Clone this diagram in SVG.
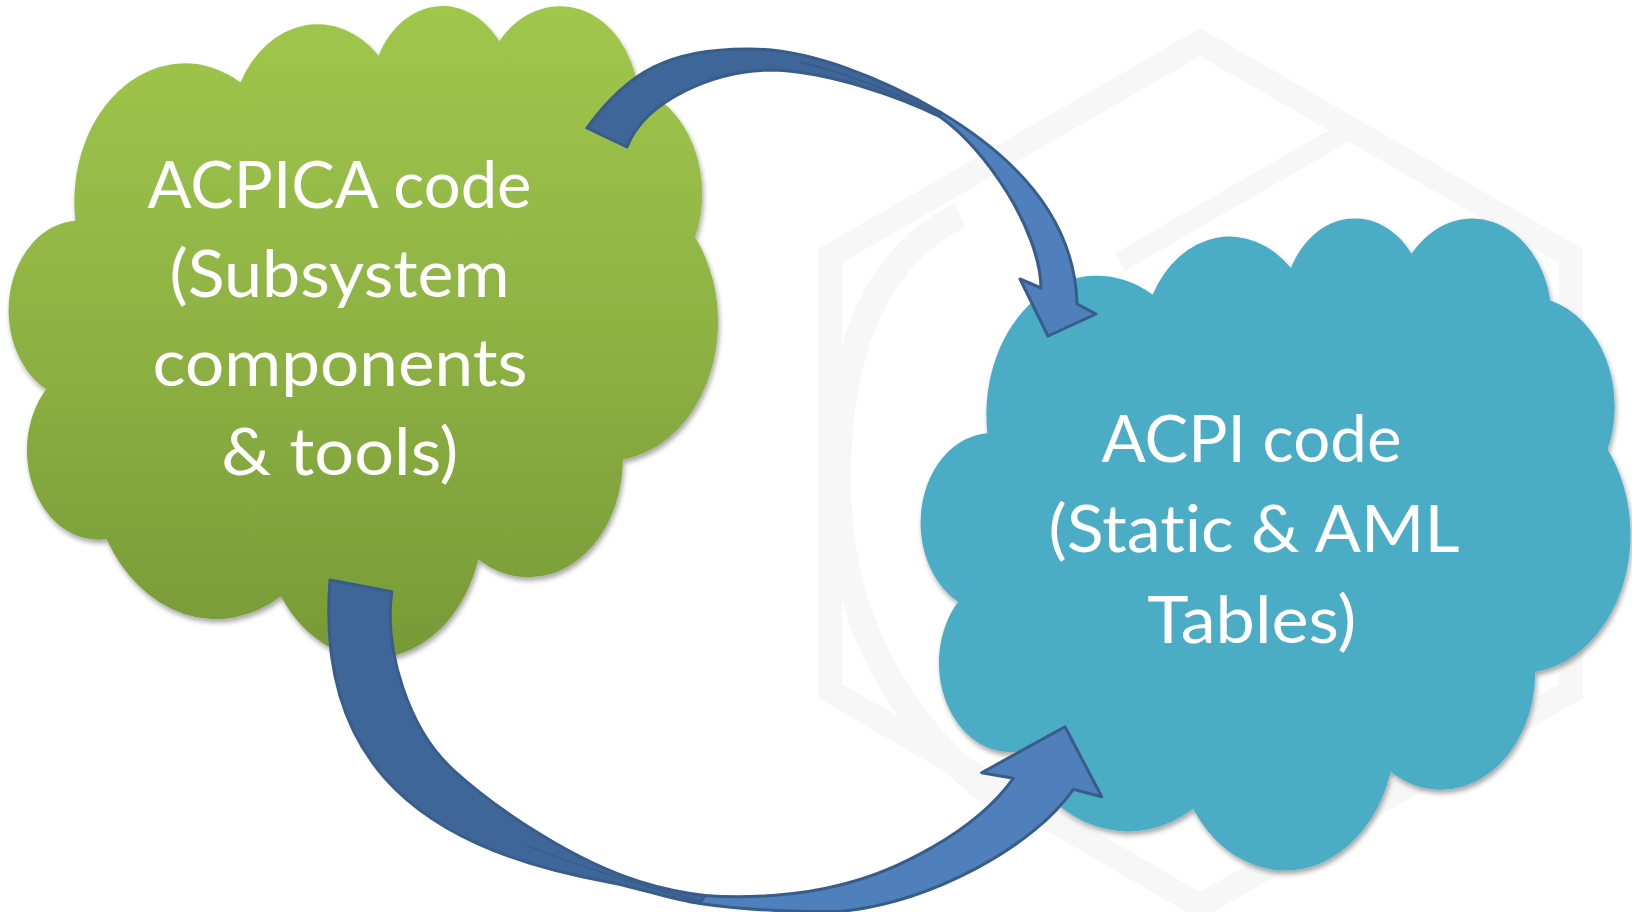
<svg xmlns="http://www.w3.org/2000/svg" width="1632" height="912" viewBox="0 0 1632 912">
<style>
  .cloud-edge { stroke: #9BBB59; stroke-width: 1.6; vector-effect: non-scaling-stroke; }
  .cloud-line { fill: none; stroke: #9BBB59; stroke-width: 1.4; vector-effect: non-scaling-stroke; }
  .lbl { font-family: "Lato", "Open Sans", "Liberation Sans", sans-serif; font-size: 65px; fill: #FFFFFF; text-anchor: middle; font-variant-ligatures: none; font-feature-settings: "liga" 0, "clig" 0; }
  .arrow-back { fill: #3F6698; stroke: #385D8A; stroke-width: 3; stroke-linejoin: round; }
  .arrow-front { fill: #4F80BC; stroke: #385D8A; stroke-width: 3; stroke-linejoin: round; }
  .twist { fill: none; stroke: #365B88; stroke-width: 1.3; }
  .wm { fill: none; stroke: #F7F7F7; }
</style>
<defs>
  <linearGradient id="gGreen" x1="0" y1="0" x2="0" y2="1">
    <stop offset="0" stop-color="#A0C74C"/>
    <stop offset="0.5" stop-color="#8EB243"/>
    <stop offset="1" stop-color="#779A37"/>
  </linearGradient>
  <filter id="sh" x="-5%" y="-5%" width="115%" height="115%">
    <feDropShadow dx="1.5" dy="3.5" stdDeviation="2.5" flood-color="#000000" flood-opacity="0.35"/>
  </filter>
  <path id="cloud" d="M 3900 14370 A 6753 9190 0 0 1 14005 5202 A 5333 7267 0 0 1 22456 3432 A 4365 5945 0 0 1 29833 2481 A 4857 6595 0 0 1 38318 5576 A 5333 7273 0 0 1 41818 15460 A 6775 9220 0 0 1 37404 30203 A 5785 7867 0 0 1 28556 36813 A 6752 9215 0 0 1 16480 39264 A 7720 10543 0 0 1 5805 35470 A 4360 5918 0 0 1 2114 25548 A 4345 5945 0 0 1 3900 14370 Z"/>
  <path id="cloudLines" d="M 4693 26177 A 4345 5945 0 0 1 2160 25380 M 6928 34899 A 4360 5918 0 0 1 5820 35281 M 16478 39090 A 6752 9215 0 0 1 15810 37350 M 28827 34751 A 6752 9215 0 0 1 28560 36660 M 34129 22954 A 5785 7867 0 0 1 37380 30090 M 41798 15354 A 5333 7273 0 0 1 40350 18030 M 38324 5426 A 4857 6595 0 0 1 38400 6690 M 29078 3952 A 4857 6595 0 0 1 29820 2341 M 22141 4720 A 4365 5945 0 0 1 22500 3330 M 14000 5192 A 6753 9190 0 0 1 15300 6540 M 4127 15789 A 6753 9190 0 0 1 3900 14370"/>
</defs>

<rect x="0" y="0" width="1632" height="912" fill="#FFFFFF"/>

<g id="watermark">
  <polygon class="wm" points="1200,42 1571,256 1571,691 1200,906 830,691 830,256" stroke-width="24"/>
  <polyline class="wm" points="1120,262 1349,130 1400,158" stroke-width="20"/>
  <path class="wm" d="M 960,215 C 870,260 838,360 838,480 C 838,620 900,740 1040,830" stroke-width="26"/>
</g>

<g id="node-acpica">
  <g filter="url(#sh)">
    <g transform="translate(11.6,3.9) scale(0.016345,0.015087)">
      <use href="#cloud" class="cloud-edge" fill="url(#gGreen)"/>
      <use href="#cloudLines" class="cloud-line"/>
    </g>
  </g>
  <text class="lbl" x="339.5" y="207.6" textLength="384" lengthAdjust="spacingAndGlyphs">ACPICA code</text>
  <text class="lbl" x="339.5" y="297" textLength="340" lengthAdjust="spacingAndGlyphs">(Subsystem</text>
  <text class="lbl" x="340" y="386" textLength="375" lengthAdjust="spacingAndGlyphs">components</text>
  <text class="lbl" x="339.8" y="475.4" textLength="237" lengthAdjust="spacingAndGlyphs">&amp; tools)</text>
</g>

<g id="node-acpi">
  <g filter="url(#sh)">
    <g transform="translate(923.6,216.3) scale(0.016356,0.015089)">
      <use href="#cloud" class="cloud-edge" fill="#4BACC6"/>
      <use href="#cloudLines" class="cloud-line"/>
    </g>
  </g>
  <text class="lbl" x="1251.5" y="462.4" textLength="300" lengthAdjust="spacingAndGlyphs">ACPI code</text>
  <text class="lbl" x="1254" y="552" textLength="411" lengthAdjust="spacingAndGlyphs">(Static &amp; AML</text>
  <text class="lbl" x="1251.7" y="642.6" textLength="209" lengthAdjust="spacingAndGlyphs">Tables)</text>
</g>

<g id="connectors">
  <g id="arrow-top">
    <path class="arrow-back" d="M 587,128 C 628,71 670,49 747,49 C 810,48 885,80 940,112 L 940,116.7 C 900,97 830,72 773,70 C 715,70 645,100 627,147 Z"/>
    <path class="twist" d="M 800,62 C 845,73 890,90 938,113"/>
    <path class="arrow-front" d="M 940,112 C 1017,158 1075,220 1077,304 L 1096,314 L 1048,336 L 1020,279 L 1041,288 C 1040,230 985,148 940,116.7 Z"/>
  </g>
  <g id="arrow-bottom">
    <path class="arrow-back" d="M 330,580 C 315,770 430,850 606.7,881.7 C 636.2,887 670.3,899 700,903.5 L 705,895.5 C 683.2,892.9 661,888.3 640,881.7 C 573.2,860.7 497.7,810.2 453.3,770 C 408.9,729.8 383.9,651 391.7,591.7 Z"/>
    <path class="twist" d="M 525,845 C 585,868 640,886 700,901"/>
    <path class="arrow-front" d="M 700,903.5 C 744.6,910.2 795,912 840,911.5 C 930,902.5 1033,847.4 1073.3,789.3 L 1101.7,796.7 L 1065,726.7 L 981.7,772.7 L 1013.3,778.3 C 975,832 895,872 840,885 C 800,895.5 745,899 705,895.5 Z"/>
  </g>
</g>
</svg>
